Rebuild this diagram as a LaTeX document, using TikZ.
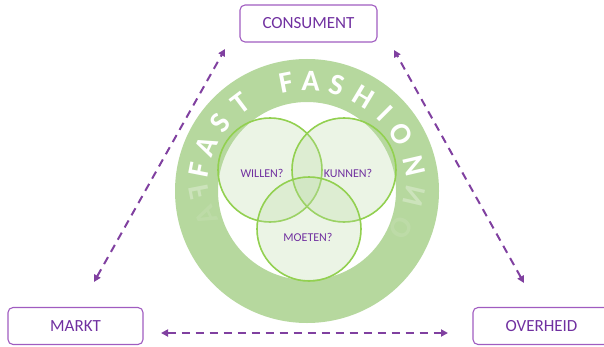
\documentclass[tikz,border=0pt]{standalone}
\usepackage{fontspec}
\setmainfont{Carlito}
\usetikzlibrary{arrows.meta}
\definecolor{paars}{HTML}{7030A0}
\definecolor{paarsrand}{HTML}{A05CC0}
\definecolor{pijlpaars}{HTML}{8040A0}
\definecolor{ringgroen}{HTML}{B6D89E}
\definecolor{lijngroen}{HTML}{92D050}

\begin{document}
\begin{tikzpicture}[x=1pt,y=1pt,
    box/.style={draw=paarsrand,line width=1.1pt,rounded corners=5pt,text=paars,
      font=\fontsize{17}{20}\selectfont,minimum height=37pt},
    pijl/.style={pijlpaars,line width=2pt,dash pattern=on 8pt off 6pt,
      {Triangle[length=7pt,width=7pt]}-{Triangle[length=7pt,width=7pt]}},
    cirkel/.style={circle,minimum size=104pt,draw=lijngroen,line width=1.6pt,
      fill=ringgroen,fill opacity=0.27,text opacity=1},
    vraag/.style={text=paars,font=\fontsize{12}{14}\selectfont},
    letter/.style={text=white,font=\bfseries\fontsize{30}{30}\selectfont,inner sep=0pt}]
  \useasboundingbox (0,0) rectangle (604,346);

  % ring met tekst
  \coordinate (midden) at (307,155);
  \fill[ringgroen,even odd rule] (midden) circle (132pt) (midden) circle (89pt);
  \foreach \l/\a [count=\i] in {F/169,A/156,S/142,T/127,F/101,A/88,S/74,H/59,I/45,O/31,N/13}
    \node[letter,rotate=\a-90] (letter\i) at ([shift={(\a:110pt)}]midden) {\l};
  % spiegeling
  \foreach \l/\a/\o [count=\i] in {F/169/0.3,A/156/0.1,N/13/0.3,O/31/0.1}
    \node[letter,opacity=\o,rotate=90-\a,yscale=-1] (spiegel\i)
      at ({307+110*cos(\a)},{175-110*sin(\a)}) {\l};

  % venn
  \node[cirkel] (willen) at (270,176) {};
  \node[cirkel] (kunnen) at (344,176) {};
  \node[cirkel] (moeten) at (309,117) {};
  \node[vraag] (tw) at (262,173) {WILLEN?};
  \node[vraag] (tk) at (348,173) {KUNNEN?};
  \node[vraag] (tm) at (308,109) {MOETEN?};

  % partijen
  \node[box,minimum width=137pt] (consument) at (308.5,322.5) {CONSUMENT};
  \node[box,minimum width=135pt] (markt) at (75.5,20) {MARKT};
  \node[box,minimum width=137pt] (overheid) at (541.5,20) {OVERHEID};

  \coordinate (lo) at (94,64);
  \coordinate (lb) at (225,297);
  \coordinate (ro) at (524,63);
  \coordinate (rb) at (394,296);
  \coordinate (ml) at (161,13);
  \coordinate (mr) at (448,13);
  \draw[pijl] (lo) -- (lb);
  \draw[pijl] (ro) -- (rb);
  \draw[pijl] (ml) -- (mr);
\end{tikzpicture}
\end{document}
